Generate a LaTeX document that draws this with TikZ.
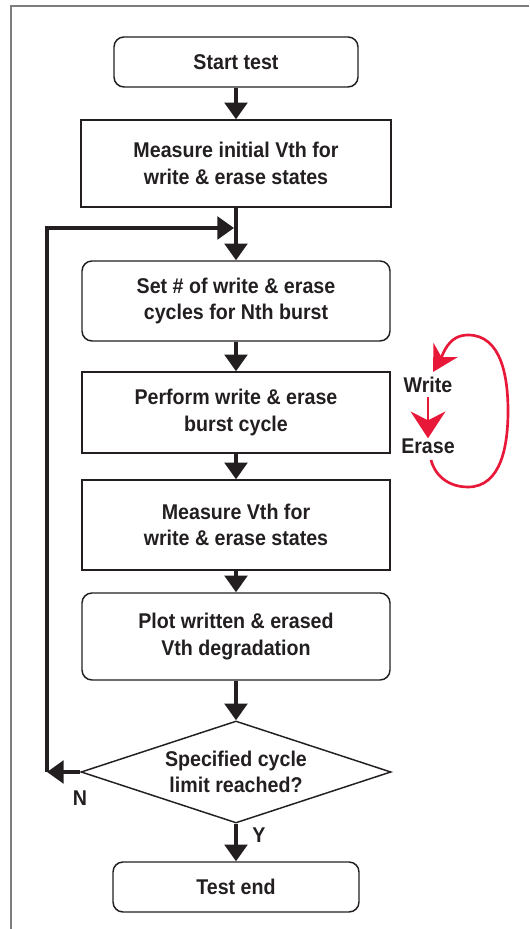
\documentclass[tikz,border=0pt]{standalone}
\usepackage{fontspec}
\setmainfont{Liberation Sans}[FakeStretch=0.92]
\usetikzlibrary{shapes.geometric,arrows.meta}
\definecolor{inkgray}{RGB}{35,31,32}
\definecolor{loopred}{RGB}{232,24,56}
\definecolor{framegray}{RGB}{125,125,125}
\tikzset{
  box/.style={draw=inkgray,line width=1.1pt,inner sep=0pt,align=center,
    font=\bfseries\fontsize{16}{20}\selectfont,text=inkgray},
  roundbox/.style={box,rounded corners=7.5pt},
  decision/.style={box,diamond,aspect=3},
  flow/.style={draw=inkgray,line width=2.6pt,-{Triangle[width=17pt,length=12.5pt]}},
  redloop/.style={draw=loopred,line width=2pt},
  tag/.style={font=\bfseries\fontsize{16}{20}\selectfont,text=inkgray,inner sep=0pt}
}
\begin{document}
\begin{tikzpicture}[x=0.75pt,y=0.75pt]
            \useasboundingbox (0,0) rectangle (529,929);
            \draw[framegray,line width=1.2pt] (11,0) -- (11,923) -- (529,923);
            \node[roundbox,minimum width=183pt,minimum height=37.5pt] (start) at (236,867) {Start test};
            \node[box,minimum width=232.5pt,minimum height=65.25pt] (init) at (236,765.5) {Measure initial Vth for\\write \& erase states};
            \node[roundbox,minimum width=231pt,minimum height=60pt] (setn) at (236,628) {Set \# of write \& erase\\cycles for Nth burst};
            \node[box,minimum width=231pt,minimum height=60.75pt] (burst) at (236,516.5) {Perform write \& erase\\burst cycle};
            \node[box,minimum width=231pt,minimum height=67.5pt] (meas) at (236,404) {Measure Vth for\\write \& erase states};
            \node[roundbox,minimum width=231pt,minimum height=65.25pt] (plot) at (236,292.5) {Plot written \& erased\\Vth degradation};
            \node[decision,minimum width=232.5pt,minimum height=76.5pt] (dec) at (236,157) {Specified cycle\\limit reached?};
            \node[roundbox,minimum width=184.5pt,minimum height=37.5pt] (stop) at (236,42) {Test end};
            \coordinate (nleft) at (47,157);
            \coordinate (joint) at (234,701);
            \draw[flow] (start) -- (init);
            \draw[flow] (init) -- (setn);
            \draw[flow] (setn) -- (burst);
            \draw[flow] (burst) -- (meas);
            \draw[flow] (meas) -- (plot);
            \draw[flow] (plot) -- (dec);
            \draw[flow] (dec) -- (stop);
            \draw[flow] (dec.west) -- (nleft);
            \draw[flow] (nleft) |- (joint);
            \node[tag] (no) at (80,131) {N};
            \node[tag] (yes) at (259,94) {Y};
            % write / erase loop
            \node[tag] (write) at (428,544) {Write};
            \node[tag] (erase) at (428,483) {Erase};
            \draw[redloop,-{Stealth[width=26pt,length=20pt]},shorten <=3pt] (write) -- (erase);
            \draw[redloop,-{Stealth[width=21pt,length=19pt]}] (431,469) to[out=-75,in=180] (468,442)
              to[out=0,in=-90] (508,518) to[out=90,in=0] (468,594) to[out=180,in=60] (433,557);
\end{tikzpicture}
\end{document}
